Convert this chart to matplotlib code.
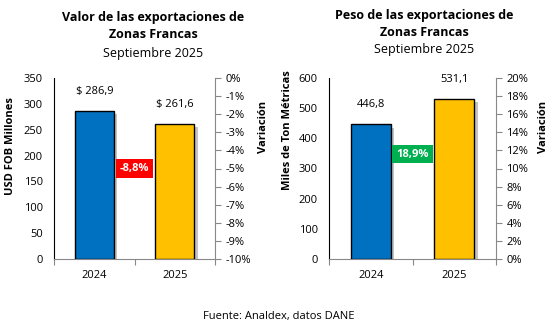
import matplotlib
matplotlib.use("Agg")
import matplotlib.pyplot as plt
import matplotlib.patheffects as pe

plt.rcParams['font.family'] = ['Open Sans', 'DejaVu Sans']

years = ["2024", "2025"]
valor = [286.9, 261.6]
valor_labels = ["$ 286,9", "$ 261,6"]
valor_var = "-8,8%"
peso = [446.8, 531.1]
peso_labels = ["446,8", "531,1"]
peso_var = "18,9%"
left_yticks = [0, 50, 100, 150, 200, 250, 300, 350]
left_rticks = [0, -1, -2, -3, -4, -5, -6, -7, -8, -9, -10]
right_yticks = [0, 100, 200, 300, 400, 500, 600]
right_rticks = [0, 2, 4, 6, 8, 10, 12, 14, 16, 18, 20]
colors = ["#0070C0", "#FFC000"]

W, H = 558, 329
fig = plt.figure(figsize=(W/100, H/100), dpi=100)

def fx(px):
    return px / W
def fy(py):
    return 1 - py / H

def make(ax_box, vals, labels, yticks, ymax, rticks, rlim, var_txt, var_color, var_pos, label_off):
    l, t, r, b = ax_box
    ax = fig.add_axes([fx(l), fy(b), fx(r) - fx(l), fy(t) - fy(b)])
    x = [0, 1]
    shadow = [pe.SimplePatchShadow(offset=(2.5, -2.5), shadow_rgbFace='#888888', alpha=0.5), pe.Normal()]
    bars = ax.bar(x, vals, width=0.48, color=colors, edgecolor='black', linewidth=1.0, zorder=3)
    for bb in bars:
        bb.set_path_effects(shadow)
    ax.set_xlim(-0.5, 1.5)
    ax.set_ylim(0, ymax)
    ax.set_yticks(yticks)
    ax.set_yticklabels([str(v) for v in yticks], fontsize=8)
    ax.tick_params(axis='y', length=0, pad=8)
    ax.set_xticks([-0.5, 0.5, 1.5], minor=False)
    ax.set_xticklabels(["", "", ""])
    ax.set_xticks(x, minor=True)
    ax.set_xticklabels(years, minor=True, fontsize=8)
    ax.tick_params(axis='x', which='major', length=4, color='#888888', direction='out')
    ax.tick_params(axis='x', which='minor', length=0, pad=8)
    ax.spines['top'].set_visible(False)
    ax.spines['right'].set_visible(False)
    ax.spines['bottom'].set_color('#888888')
    ax.spines['left'].set_color('black')
    for xi, v, lab in zip(x, vals, labels):
        ax.annotate(lab, (xi, v), xytext=(0, label_off), textcoords='offset points',
                    ha='center', va='center', fontsize=8)
    ax2 = ax.twinx()
    ax2.set_ylim(*rlim)
    ax2.set_yticks(rticks)
    ax2.set_yticklabels([f"{v}%" for v in rticks], fontsize=8)
    ax2.tick_params(axis='y', length=4, color='#888888', direction='out')
    for s in ['top', 'left', 'bottom']:
        ax2.spines[s].set_visible(False)
    ax2.spines['right'].set_color('#888888')
    ax.text(var_pos[0], var_pos[1], var_txt, transform=ax.transAxes, ha='center', va='center',
            fontsize=8, fontweight='bold', color='white', zorder=5,
            bbox=dict(boxstyle='square,pad=0.35', fc=var_color, ec='none'))
    return ax

make((54, 78, 215, 259), valor, valor_labels, left_yticks, 350, left_rticks, (-10, 0),
     valor_var, "#FF0000", (0.5, 0.5), 14)
make((329, 78, 496, 259), peso, peso_labels, right_yticks, 600, right_rticks, (0, 20),
     peso_var, "#00B050", (0.5, 0.58), 14)

def vlabel(px, py, s):
    fig.text(fx(px), fy(py), s, rotation=90, ha='center', va='center', fontsize=8, fontweight='bold')

vlabel(11, 146, "USD FOB Millones")
vlabel(263, 127, "Variación")
vlabel(287, 130, "Miles de Ton Métricas")
vlabel(544, 127, "Variación")

fig.text(fx(153), fy(18), "Valor de las exportaciones de", ha='center', va='center', fontsize=9, fontweight='bold')
fig.text(fx(153), fy(35), "Zonas Francas", ha='center', va='center', fontsize=9, fontweight='bold')
fig.text(fx(153), fy(53), "Septiembre 2025", ha='center', va='center', fontsize=9)
fig.text(fx(424), fy(15), "Peso de las exportaciones de", ha='center', va='center', fontsize=9, fontweight='bold')
fig.text(fx(424), fy(32), "Zonas Francas", ha='center', va='center', fontsize=9, fontweight='bold')
fig.text(fx(424), fy(49), "Septiembre 2025", ha='center', va='center', fontsize=9)
fig.text(fx(279), fy(316), "Fuente: Analdex, datos DANE", ha='center', va='center', fontsize=8)

fig.savefig("out.png", dpi=100)
